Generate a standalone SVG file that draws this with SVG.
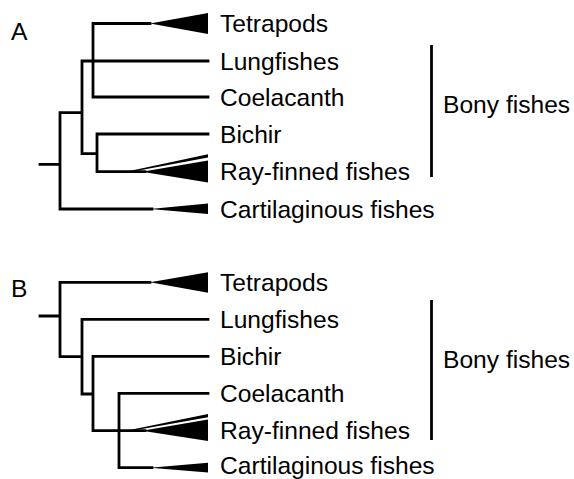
<svg xmlns="http://www.w3.org/2000/svg" width="574" height="479" viewBox="0 0 574 479">
<style>
text{font-family:"Liberation Sans",Arial,sans-serif;font-size:24.6px;fill:#000}
.br{fill:none;stroke:#000;stroke-width:2.8;stroke-linecap:square;stroke-linejoin:miter}
.wedge{fill:#000}
.bar{stroke:#000;stroke-width:2.8}
</style>
<rect width="574" height="479" fill="#fff"/>
<g id="panelA">
<text id="labelA" x="11" y="40">A</text>
<g id="connectorsA">
<path class="br" d="M93,23.5 H150 M93,23.5 V97 H208 M82,61 H208 M82,61 V153.7 H97 M97,134 H208 M97,134 V171.7 H145 M60,112.7 H82 M60,112.7 V209 H152 M40,164.3 H60"/>
</g>
<g id="A-tetrapods"><polygon class="wedge" points="150,23.5 208,13 208,34"/><text x="220" y="32">Tetrapods</text></g>
<g id="A-lungfishes"><text x="220" y="69.5">Lungfishes</text></g>
<g id="A-coelacanth"><text x="220" y="105.5">Coelacanth</text></g>
<g id="A-bichir"><text x="220" y="142.5">Bichir</text></g>
<g id="A-rayfinned"><polygon class="wedge" points="126,171.7 208,154.3 208,157.5 132,171.7"/><polygon class="wedge" points="142,171.7 208,160.5 208,182.5"/><text x="220" y="180">Ray-finned fishes</text></g>
<g id="A-cartilaginous"><polygon class="wedge" points="150,209 208,203.5 208,214"/><text x="220" y="217.5">Cartilaginous fishes</text></g>
<g id="A-bony"><line class="bar" x1="431.5" y1="45" x2="431.5" y2="177"/><text x="443" y="112.5">Bony fishes</text></g>
</g>
<g id="panelB">
<text id="labelB" x="11" y="297">B</text>
<g id="connectorsB">
<path class="br" d="M60,282.3 H150 M60,282.3 V356.7 H82 M40,316 H60 M82,319.3 H208 M82,319.3 V394 H93 M93,356.3 H208 M93,356.3 V430.7 H145 M119,393.3 H208 M119,393.3 V467.7 H152"/>
</g>
<g id="B-tetrapods"><polygon class="wedge" points="150,282.3 208,272.3 208,292.7"/><text x="220" y="291">Tetrapods</text></g>
<g id="B-lungfishes"><text x="220" y="328">Lungfishes</text></g>
<g id="B-bichir"><text x="220" y="365">Bichir</text></g>
<g id="B-coelacanth"><text x="220" y="402">Coelacanth</text></g>
<g id="B-rayfinned"><polygon class="wedge" points="126,430.7 208,414 208,417.2 132,430.7"/><polygon class="wedge" points="142,430.7 208,419.5 208,441"/><text x="220" y="439">Ray-finned fishes</text></g>
<g id="B-cartilaginous"><polygon class="wedge" points="150,467.7 208,462.7 208,472.5"/><text x="220" y="474">Cartilaginous fishes</text></g>
<g id="B-bony"><line class="bar" x1="431.5" y1="300" x2="431.5" y2="440"/><text x="443" y="368">Bony fishes</text></g>
</g>
</svg>
